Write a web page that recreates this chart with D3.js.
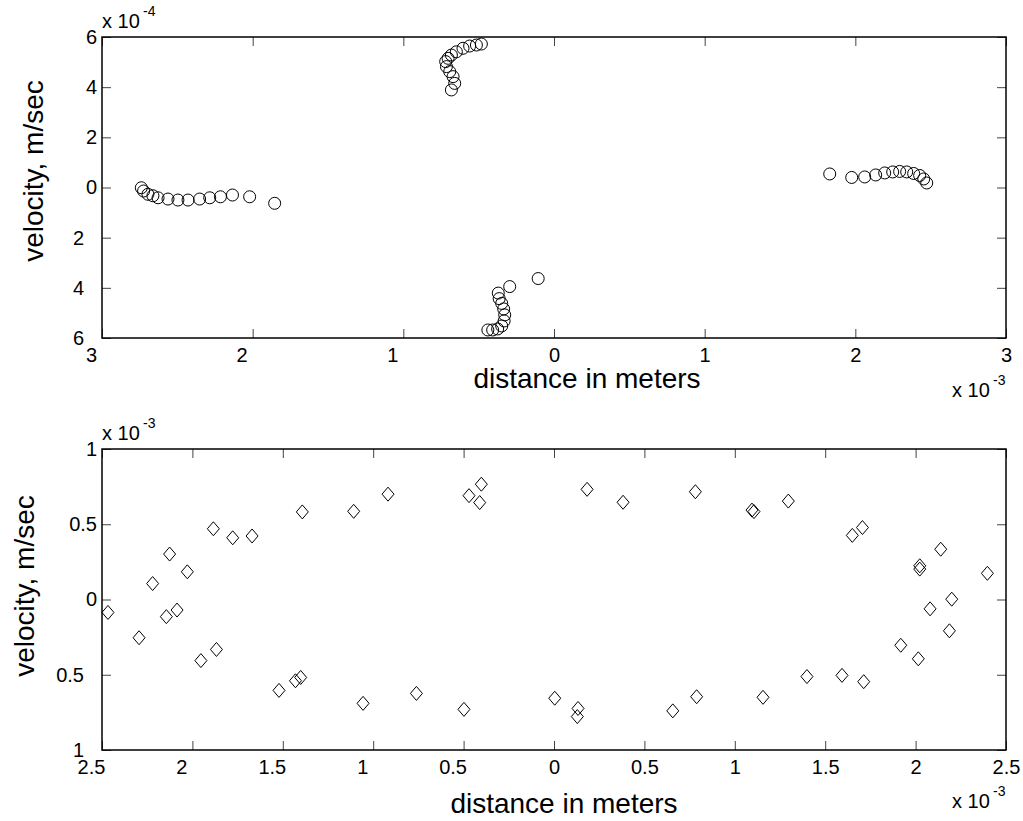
<!DOCTYPE html>
<html>
<head>
<meta charset="utf-8">
<script src="https://cdn.jsdelivr.net/npm/d3@7"></script>
<style>
	body { margin: 0; background: #fff; }
	svg { display: block; font-family: "Liberation Sans", Arial, sans-serif; }
	.tick text { fill: #000; }
</style>
</head>
<body>
<svg id="chart" width="1023" height="821"></svg>
<script>
// upper panel: distance in units of 1e-3 m, velocity in units of 1e-4 m/sec
var topDistance = [
	-2.739, -2.724, -2.695, -2.662, -2.628, -2.562, -2.496, -2.429, -2.352, -2.285, -2.214, -2.134, -2.020, -1.854,
	-0.482, -0.515, -0.560, -0.604, -0.648, -0.681, -0.703, -0.719, -0.714, -0.692, -0.670, -0.659, -0.681,
	-0.439, -0.407, -0.374, -0.347, -0.331, -0.327, -0.334, -0.347, -0.364, -0.370, -0.294, -0.105,
	1.830, 1.976, 2.062, 2.135, 2.195, 2.248, 2.294, 2.341, 2.387, 2.427, 2.454, 2.474
];
var topVelocity = [
	-0.01, -0.14, -0.27, -0.33, -0.41, -0.46, -0.50, -0.50, -0.46, -0.41, -0.37, -0.30, -0.37, -0.63,
	5.72, 5.68, 5.64, 5.55, 5.41, 5.28, 5.15, 5.02, 4.82, 4.62, 4.42, 4.15, 3.89,
	-5.68, -5.68, -5.64, -5.52, -5.32, -5.08, -4.84, -4.62, -4.43, -4.21, -3.95, -3.63,
	0.54, 0.40, 0.42, 0.50, 0.58, 0.62, 0.64, 0.62, 0.56, 0.48, 0.34, 0.18
];

// lower panel: distance in units of 1e-3 m, velocity in units of 1e-3 m/sec
var bottomDistance = [
	-2.467, -2.295, -2.220, -2.126, -2.144, -2.085, -2.028, -1.953, -1.884, -1.867, -1.777, -1.670,
	-1.521, -1.430, -1.401, -1.392, -1.108, -1.056, -0.918, -0.761, -0.498, -0.470, -0.402, -0.411,
	0.004, 0.133, 0.129, 0.183, 0.382, 0.657, 0.782, 0.789, 1.095, 1.106, 1.156, 1.296, 1.399,
	1.593, 1.650, 1.706, 1.713, 1.918, 2.015, 2.023, 2.023, 2.080, 2.139, 2.187, 2.200, 2.397
];
var bottomVelocity = [
	-0.086, -0.254, 0.106, 0.302, -0.114, -0.070, 0.184, -0.406, 0.470, -0.332, 0.410, 0.422,
	-0.604, -0.540, -0.518, 0.582, 0.586, -0.690, 0.700, -0.624, -0.730, 0.690, 0.766, 0.644,
	-0.656, -0.724, -0.778, 0.732, 0.646, -0.740, 0.716, -0.646, 0.594, 0.584, -0.650, 0.654, -0.512,
	-0.504, 0.426, 0.478, -0.546, -0.304, -0.394, 0.224, 0.202, -0.062, 0.334, -0.208, 0.002, 0.174
];

var topXTicks = [-3, -2, -1, 0, 1, 2, 3];
var topYTicks = [-6, -4, -2, 0, 2, 4, 6];
var bottomXTicks = [-2.5, -2, -1.5, -1, -0.5, 0, 0.5, 1, 1.5, 2, 2.5];
var bottomYTicks = [-1, -0.5, 0, 0.5, 1];

var svg = d3.select('#chart');
var tickFont = 20;

function drawPanel(opts) {
	var x = d3.scaleLinear().domain(opts.xDomain).range([102, 1006]);
	var y = d3.scaleLinear().domain(opts.yDomain).range([opts.bottom, opts.top]);
	var fmt = function(d) { return d3.format('~g')(Math.abs(d)); };
	var g = svg.append('g');

	// inward ticks on all four sides
	var xb = g.append('g').attr('transform', 'translate(0,' + opts.bottom + ')')
		.call(d3.axisBottom(x).tickValues(opts.xTicks).tickSize(-9).tickPadding(10).tickFormat(fmt));
	xb.selectAll('.tick text').attr('dx', function(d) { return d < 0 ? -11 : 0; });
	g.append('g').attr('transform', 'translate(0,' + opts.top + ')')
		.call(d3.axisTop(x).tickValues(opts.xTicks).tickSize(-9).tickFormat(''));
	var yl = g.append('g').attr('transform', 'translate(102,0)')
		.call(d3.axisLeft(y).tickValues(opts.yTicks).tickSize(-9).tickPadding(5).tickFormat(fmt));
	yl.selectAll('.tick text').attr('dx', function(d) { return d < 0 ? -13 : 0; });
	g.append('g').attr('transform', 'translate(1006,0)')
		.call(d3.axisRight(y).tickValues(opts.yTicks).tickSize(-9).tickFormat(''));

	g.selectAll('.domain').remove();
	g.selectAll('.tick line').attr('stroke', '#444');
	g.selectAll('.tick text').attr('font-size', tickFont).attr('font-family', '"Liberation Sans", Arial, sans-serif');

	g.append('rect')
		.attr('x', 102).attr('y', opts.top)
		.attr('width', 904).attr('height', opts.bottom - opts.top)
		.attr('fill', 'none').attr('stroke', '#000').attr('stroke-width', 1.5);

	// markers
	var pts = opts.xs.map(function(d, i) { return [d, opts.ys[i]]; });
	if (opts.marker === 'circle') {
		g.selectAll('circle.pt').data(pts).enter().append('circle')
			.attr('class', 'pt')
			.attr('cx', function(d) { return x(d[0]); })
			.attr('cy', function(d) { return y(d[1]); })
			.attr('r', 6)
			.attr('fill', 'none').attr('stroke', '#000').attr('stroke-width', 1);
	} else {
		g.selectAll('path.pt').data(pts).enter().append('path')
			.attr('class', 'pt')
			.attr('d', 'M0,-7L6,0L0,7L-6,0Z')
			.attr('transform', function(d) { return 'translate(' + x(d[0]) + ',' + y(d[1]) + ')'; })
			.attr('fill', 'none').attr('stroke', '#000').attr('stroke-width', 1);
	}

	// axis labels
	g.append('text')
		.attr('x', opts.xLabelX).attr('y', opts.xLabelY)
		.attr('text-anchor', 'middle').attr('font-size', 28)
		.text('distance in meters');
	g.append('text')
		.attr('transform', 'translate(' + opts.yLabelX + ',' + opts.yLabelY + ') rotate(-90)')
		.attr('text-anchor', 'middle').attr('font-size', 28)
		.text('velocity, m/sec');

	// exponent notes
	exponent(g, 102, opts.yExpY, opts.yExp);
	exponent(g, 952, opts.xExpY, '-3');
}

function exponent(g, x0, baseline, power) {
	g.append('text').attr('x', x0).attr('y', baseline).attr('font-size', 20).text('x 10');
	g.append('text').attr('x', x0 + 41).attr('y', baseline - 12).attr('font-size', 14).text(power);
}

drawPanel({
	top: 37, bottom: 338,
	xDomain: [-3, 3], yDomain: [-6, 6],
	xTicks: topXTicks, yTicks: topYTicks,
	xs: topDistance, ys: topVelocity, marker: 'circle',
	xLabelX: 587, xLabelY: 388,
	yLabelX: 43, yLabelY: 171,
	yExp: '-4', yExpY: 28, xExpY: 397
});

drawPanel({
	top: 449, bottom: 750,
	xDomain: [-2.5, 2.5], yDomain: [-1, 1],
	xTicks: bottomXTicks, yTicks: bottomYTicks,
	xs: bottomDistance, ys: bottomVelocity, marker: 'diamond',
	xLabelX: 564, xLabelY: 813,
	yLabelX: 34, yLabelY: 586,
	yExp: '-3', yExpY: 440, xExpY: 808
});
</script>
</body>
</html>
